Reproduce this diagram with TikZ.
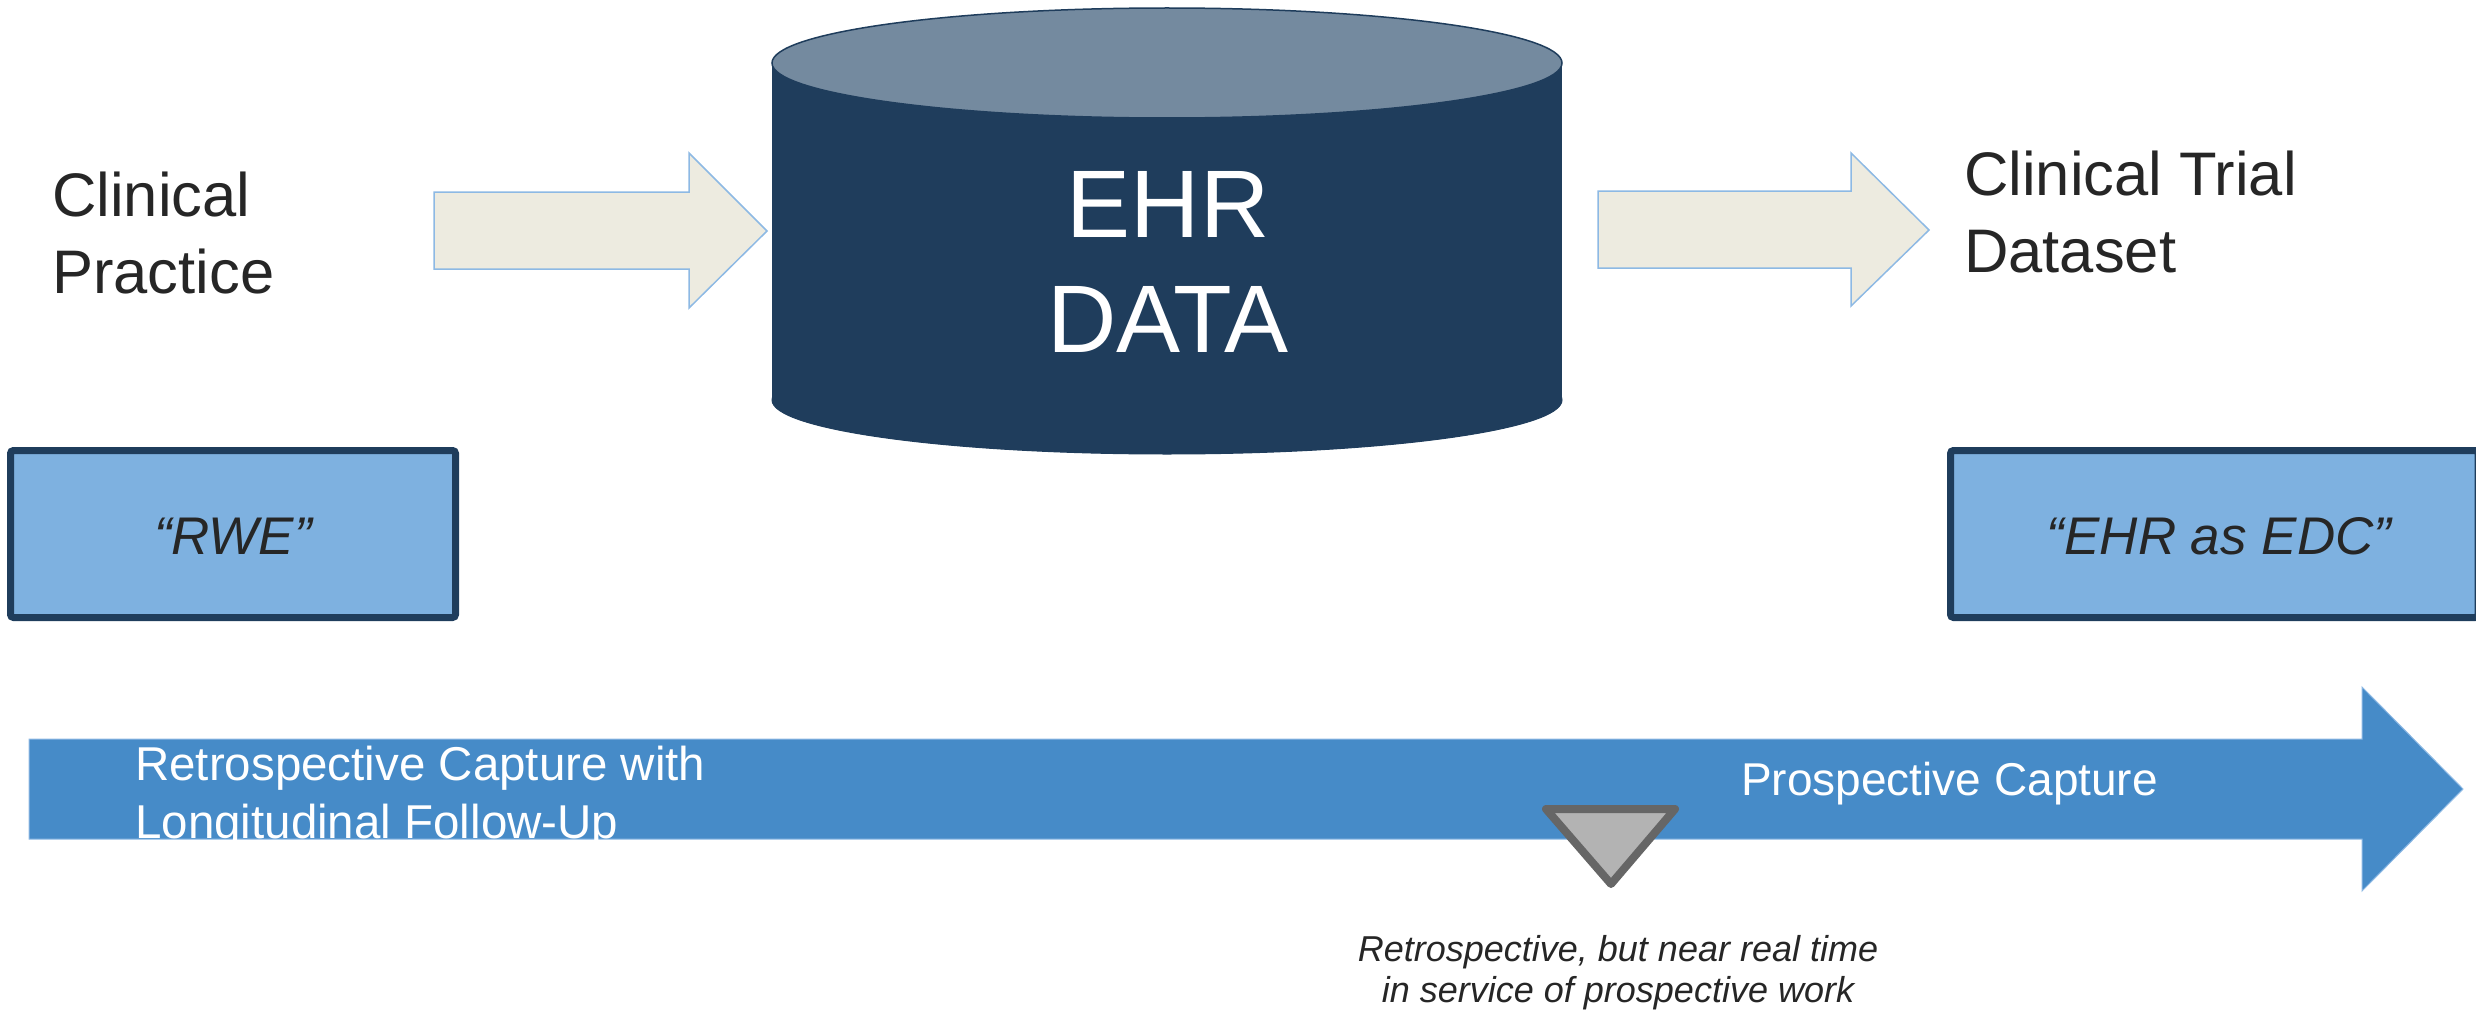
\documentclass[tikz,border=0pt]{standalone}
\usepackage{fontspec}
\setmainfont{Liberation Sans}
\definecolor{inktext}{HTML}{262626}
\definecolor{navy}{HTML}{1F3D5C}
\definecolor{cyltop}{HTML}{748A9F}
\definecolor{paper}{HTML}{EDEBE0}
\definecolor{paleblue}{HTML}{8DB9E4}
\definecolor{boxblue}{HTML}{7EB1E0}
\definecolor{barblue}{HTML}{468BC8}
\definecolor{markgray}{HTML}{B3B3B3}
\definecolor{markedge}{HTML}{666666}
\tikzset{
  flowarrow/.style={fill=paper, draw=paleblue, line width=1.5pt, line join=miter},
  labelbox/.style={fill=boxblue, draw=navy, line width=7pt, rounded corners=3pt},
  headtext/.style={inner sep=0pt, anchor=base west, align=left, text=inktext,
    font=\fontsize{61.5}{77}\selectfont},
  boxtext/.style={inner sep=0pt, anchor=base, text=inktext,
    font=\fontsize{53}{64}\selectfont\itshape},
  bartext/.style={inner sep=0pt, anchor=base west, align=left, text=white}
}
\begin{document}
\begin{tikzpicture}[x=1pt, y=-1pt]
\useasboundingbox (0,0) rectangle (2476,1014);

% block arrows into and out of the record store
\draw[flowarrow] (434,192) -- (689,192) -- (689,153) -- (767,231) -- (689,308)
  -- (689,269) -- (434,269) -- cycle;
\draw[flowarrow] (1598,191) -- (1851,191) -- (1851,153) -- (1929,230) -- (1851,306)
  -- (1851,268) -- (1598,268) -- cycle;

% EHR data cylinder (multi-line nodes sit on their last baseline)
\filldraw[fill=navy, draw=navy, line width=1pt] (1167,400) ellipse [x radius=395pt, y radius=54pt];
\fill[navy] (772,63) rectangle (1562,400);
\filldraw[fill=cyltop, draw=navy, line width=1.5pt] (1167,63) ellipse [x radius=395pt, y radius=55pt];
\node[inner sep=0pt, anchor=base, align=center, text=white,
  font=\fontsize{96}{115}\selectfont] (ehr) at (1168,352) {EHR\\DATA};

% headings
\node[headtext] (practice) at (52,293) {Clinical\\Practice};
\node[headtext] (trial) at (1964,272) {Clinical Trial\\Dataset};

% labelled boxes
\draw[labelbox] (10.5,450.5) rectangle (455.5,617.5);
\node[boxtext] (rwe) at (233,554) {“RWE”};
\draw[labelbox] (1950.5,450.5) rectangle (2478,617.5);
\node[boxtext] (edc) at (2219,554) {“EHR as EDC”};

% timeline arrow
\draw[fill=barblue, draw=paleblue, line width=1pt] (29,739) -- (2362,739) -- (2362,687)
  -- (2463,789) -- (2362,891) -- (2362,839) -- (29,839) -- cycle;
\node[bartext, font=\fontsize{47.5}{58}\selectfont] (retro) at (135,838)
  {Retrospective Capture with\\Longitudinal Follow-Up};
\node[bartext, font=\fontsize{46}{56}\selectfont] (prosp) at (1741,795) {Prospective Capture};

% marker and its note
\filldraw[fill=markgray, draw=markedge, line width=8pt, line join=round]
  (1546,809) -- (1675,809) -- (1611,884) -- cycle;
\node[inner sep=0pt, anchor=base, align=center, text=inktext,
  font=\fontsize{36}{41}\selectfont\itshape] (note) at (1618,1002)
  {Retrospective, but near real time\\in service of prospective work};
\end{tikzpicture}
\end{document}
